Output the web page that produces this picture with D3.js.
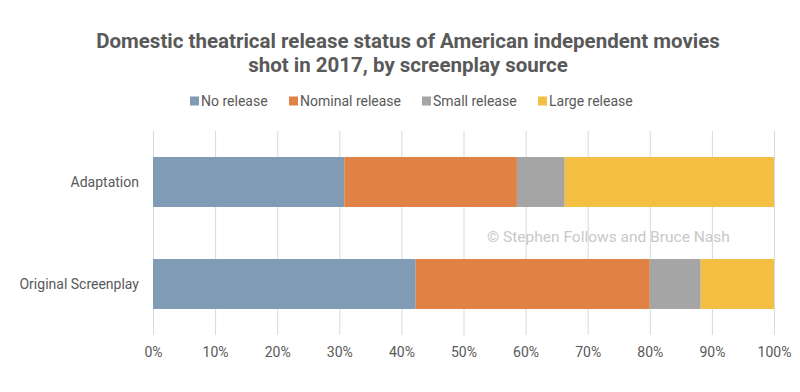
<!DOCTYPE html>
<html>
<head>
<meta charset="utf-8">
<script src="https://cdn.jsdelivr.net/npm/d3@7"></script>
<style>
  body { margin: 0; background: #fff; }
  svg { font-family: Roboto, "Open Sans", sans-serif; }
</style>
</head>
<body>
<svg id="chart" width="800" height="392"></svg>
<script>
// data
var categories = ["Adaptation", "Original Screenplay"];
var seriesNames = ["No release", "Nominal release", "Small release", "Large release"];
var seriesColors = ["#7f9cb4", "#e08244", "#a5a5a5", "#f4c043"];
var noRelease = [30.8, 42.3];
var nominalRelease = [27.8, 37.7];
var smallRelease = [7.7, 8.2];
var largeRelease = [33.7, 11.8];
var tickValues = [0, 10, 20, 30, 40, 50, 60, 70, 80, 90, 100];
var titleLines = ["Domestic theatrical release status of American independent movies",
                  "shot in 2017, by screenplay source"];
var watermark = "\u00a9 Stephen Follows and Bruce Nash";

var svg = d3.select("#chart");
var m = {left: 153, right: 26, top: 131, bottom: 57};
var W = 800, H = 392;

var rows = categories.map((c, i) => ({
  cat: c, vals: [noRelease[i], nominalRelease[i], smallRelease[i], largeRelease[i]]
}));
var stacked = d3.stack().keys(d3.range(4)).value((d, k) => d.vals[k])(rows);

var x = d3.scaleLinear().domain([0, 100]).range([m.left, W - m.right]);
var y = d3.scaleBand().domain(categories).range([m.top, H - m.bottom]).paddingInner(0.51).paddingOuter(0.255);

// title
svg.append("g").selectAll("text").data(titleLines).enter().append("text")
  .attr("x", 408).attr("y", (d, i) => 48 + i * 24.3)
  .attr("text-anchor", "middle")
  .attr("font-size", 20.5).attr("font-weight", "bold").attr("fill", "#595959")
  .text(d => d);

// legend
var legX = [190, 289, 422, 538];
var leg = svg.append("g").selectAll("g").data(seriesNames).enter().append("g")
  .attr("transform", (d, i) => "translate(" + legX[i] + ",101)");
leg.append("rect").attr("x", 0).attr("y", -4.5).attr("width", 9).attr("height", 9)
  .attr("fill", (d, i) => seriesColors[i]);
leg.append("text").attr("x", 11).attr("dy", "0.35em")
  .attr("font-size", 14).attr("fill", "#595959").text(d => d);

// grid + x axis
var xAxis = d3.axisBottom(x).tickValues(tickValues).tickFormat(d => d + "%")
  .tickSize(-(H - m.bottom - m.top)).tickPadding(12);
var gx = svg.append("g").attr("transform", "translate(0," + (H - m.bottom) + ")").call(xAxis);
gx.select(".domain").remove();
gx.selectAll(".tick line").attr("stroke", "#d9d9d9").attr("stroke-width", 1);
gx.selectAll(".tick text").attr("font-size", 14).attr("fill", "#595959")
  .attr("font-family", "Roboto, sans-serif");

// watermark
svg.append("text").attr("x", 487).attr("y", 242)
  .attr("font-size", 15.5).attr("fill", "#c8c8c8").text(watermark);

// bars
svg.append("g").selectAll("g").data(stacked).enter().append("g")
  .attr("fill", (d, i) => seriesColors[i])
  .selectAll("rect").data(d => d).enter().append("rect")
  .attr("x", d => x(d[0]))
  .attr("width", d => x(d[1]) - x(d[0]))
  .attr("y", d => y(d.data.cat))
  .attr("height", y.bandwidth());

// category labels
svg.append("g").selectAll("text").data(categories).enter().append("text")
  .attr("x", 139).attr("y", d => y(d) + y.bandwidth() / 2)
  .attr("dy", "0.35em").attr("text-anchor", "end")
  .attr("font-size", 14).attr("fill", "#595959").text(d => d);
</script>
</body>
</html>
